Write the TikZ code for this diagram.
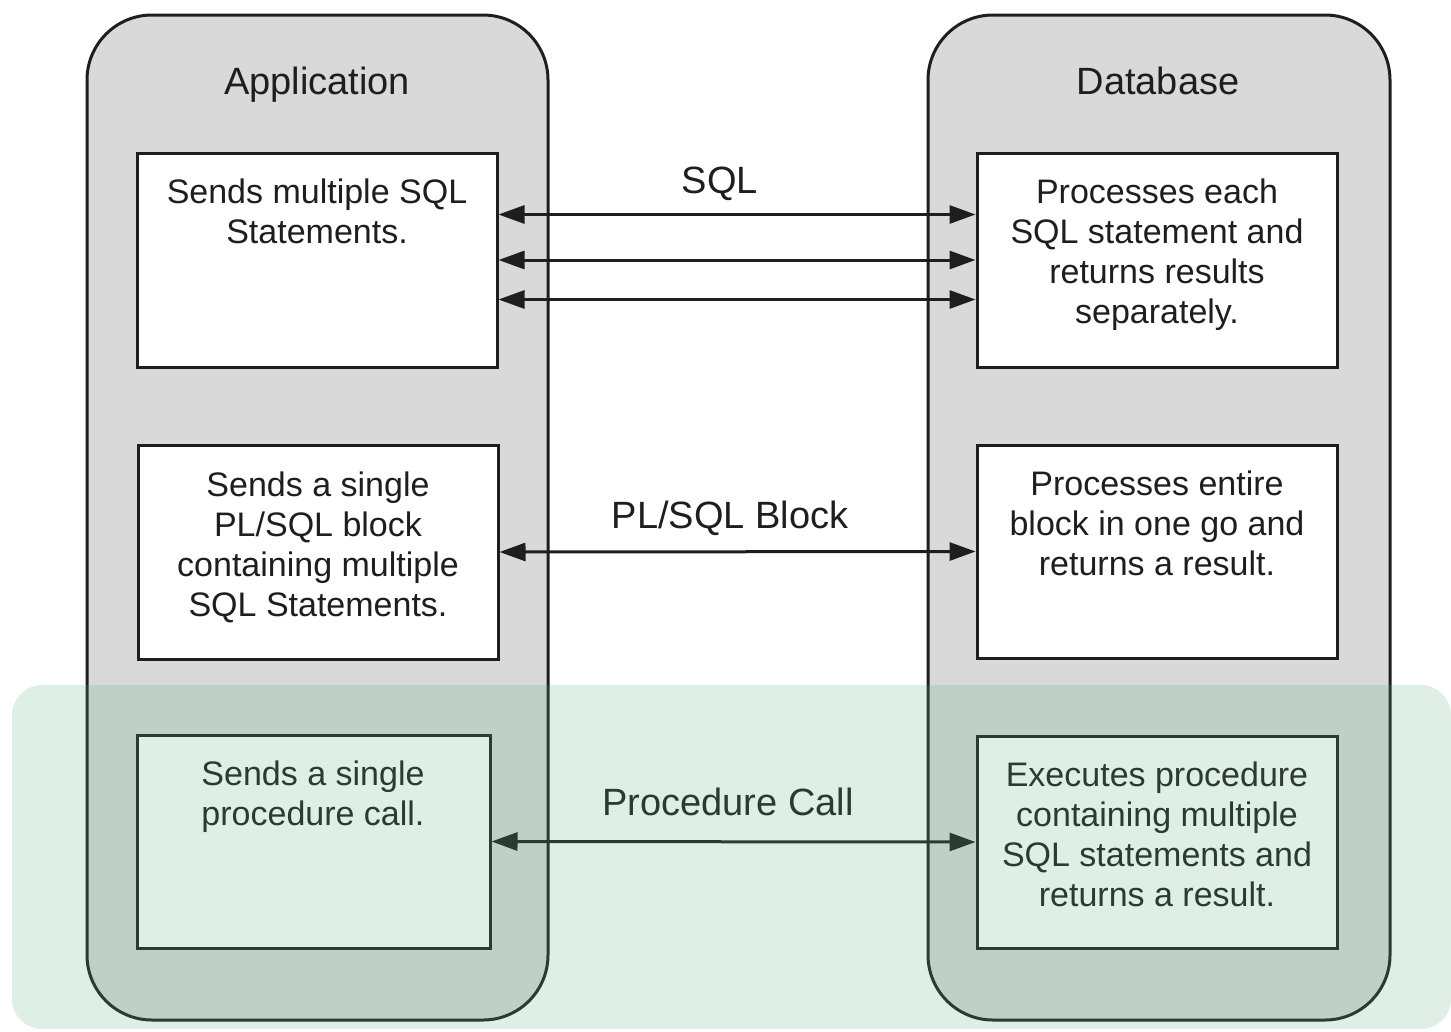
\documentclass[tikz,border=0pt]{standalone}
\usepackage{fontspec}
\setmainfont{Liberation Sans}
\usetikzlibrary{arrows.meta}
\definecolor{colfill}{HTML}{D9D9D9}
\definecolor{ink}{HTML}{1E1E1E}
\definecolor{greenover}{RGB}{99,175,125}
\begin{document}
\begin{tikzpicture}[x=1pt,y=-1pt,
  column/.style={draw=ink, line width=3pt, fill=colfill, rounded corners=65pt, inner sep=0pt},
  box/.style={draw=ink, line width=3pt, fill=white, inner sep=0pt},
  boxtext/.style={anchor=north, align=center, inner sep=0pt, text=ink, font=\fontsize{34}{40}\selectfont},
  title/.style={anchor=base, text=ink, font=\fontsize{38}{44}\selectfont, inner sep=0pt},
  conn/.style={draw=ink, line width=3pt, {Triangle[length=26pt,width=18pt]}-{Triangle[length=26pt,width=18pt]}},
]
\useasboundingbox (0,0) rectangle (1451,1031);
% columns
\node[column, minimum width=461pt, minimum height=1005pt] (app) at (317.5,517.5) {};
\node[column, minimum width=462pt, minimum height=1005pt] (db) at (1159,517.5) {};
\node[title] (apptitle) at (317,94) {Application};
\node[title] (dbtitle) at (1158,94) {Database};
% boxes
\node[box, minimum width=360pt, minimum height=214pt] (lb1) at (317,260) {};
\node[box, minimum width=360pt, minimum height=214pt] (lb2) at (318,552) {};
\node[box, minimum width=353pt, minimum height=213pt] (lb3) at (313.5,841.5) {};
\node[box, minimum width=360pt, minimum height=214pt] (rb1) at (1157,260) {};
\node[box, minimum width=360pt, minimum height=213pt] (rb2) at (1157,551.5) {};
\node[box, minimum width=360pt, minimum height=212pt] (rb3) at (1157,842) {};
% box texts
\node[boxtext] (lt1) at (317,179) {Sends multiple SQL\\Statements.};
\node[boxtext] (rt1) at (1157,179) {Processes each\\SQL statement and\\returns results\\separately.};
\node[boxtext] (lt2) at (318,472) {Sends a single\\PL/SQL block\\containing multiple\\SQL Statements.};
\node[boxtext] (rt2) at (1157,471) {Processes entire\\block in one go and\\returns a result.};
\node[boxtext] (lt3) at (313,761) {Sends a single\\procedure call.};
\node[boxtext] (rt3) at (1157,762) {Executes procedure\\containing multiple\\SQL statements and\\returns a result.};
% connectors
\draw[conn] ([yshift=-63pt]lb1.north east) -- ([yshift=-63pt]rb1.north west);
\draw[conn] (lb1.east) -- (rb1.west);
\draw[conn] ([yshift=-148pt]lb1.north east) -- ([yshift=-148pt]rb1.north west);
\draw[conn] (lb2.east) -- (rb2.west);
\draw[conn] (lb3.east) -- (rb3.west);
% labels
\node[title] (l1) at (720,193) {SQL};
\node[title] (l2) at (730,528) {PL/SQL Block};
\node[title] (l3) at (728,815) {Procedure Call};
% green overlay
\fill[greenover, opacity=0.2, rounded corners=30pt] (12,685) rectangle (1451,1029);
\end{tikzpicture}
\end{document}
